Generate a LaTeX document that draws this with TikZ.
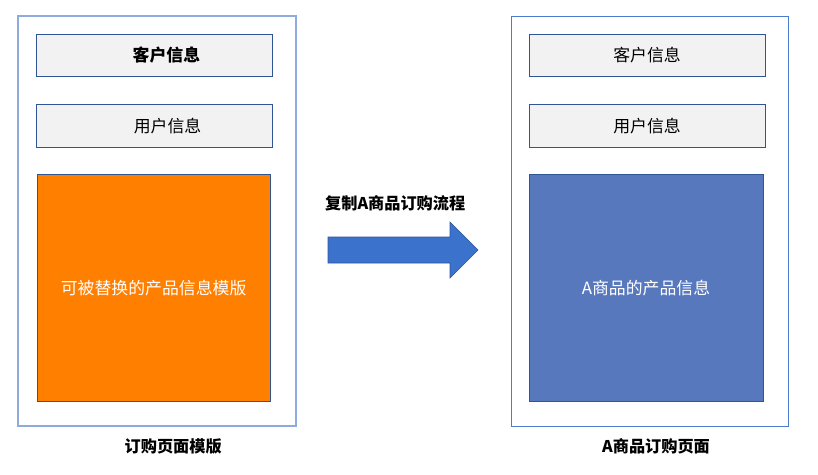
\documentclass[tikz,border=0pt]{standalone}
\usepackage{fontspec}
\usepackage{tikz}
\usetikzlibrary{positioning}
\setmainfont{Noto Sans CJK SC}
\definecolor{pageline}{RGB}{143,170,220}
\definecolor{pagelineB}{RGB}{78,124,204}
\definecolor{boxline}{RGB}{47,85,151}
\definecolor{boxgray}{RGB}{242,242,242}
\definecolor{prodorange}{RGB}{255,127,0}
\definecolor{prodblue}{RGB}{88,120,190}
\definecolor{arrowblue}{RGB}{58,114,204}

\begin{document}
\begin{tikzpicture}[
  page/.style={rectangle, draw=pageline, thick, minimum width=6.95cm, minimum height=10.25cm},
  infobox/.style={rectangle, draw=boxline, fill=boxgray, minimum width=5.9cm, minimum height=1.06cm,
                  font=\fontsize{12}{14}\selectfont},
  prodbox/.style={rectangle, draw=boxline, minimum width=5.83cm, minimum height=5.675cm,
                  text=white, font=\fontsize{12}{14}\selectfont},
  caption/.style={font=\fontsize{11.5}{13}\selectfont\bfseries},
]
\useasboundingbox (0,0) rectangle (20.45,11.85);

% template page
\node[page] (tpl) at (3.925,6.325) {};
\node[infobox, font=\fontsize{12}{14}\selectfont\bfseries] (cust1) at (3.85,10.475) {\hspace*{0.62cm}客户信息};
\node[infobox] (user1) at (3.86,8.71) {\hspace*{0.66cm}用户信息};
\node[prodbox, fill=prodorange] (prod1) at (3.84,4.66) {可被替换的产品信息模版};
\node[caption] (cap1) at (4.33,0.7) {订购页面模版};

% product A page
\node[page, draw=pagelineB, semithick, minimum width=6.925cm] (pga) at (16.24,6.325) {};
\node[infobox] (cust2) at (16.175,10.475) {客户信息};
\node[infobox] (user2) at (16.175,8.71) {用户信息};
\node[prodbox, fill=prodblue, minimum width=5.85cm] (prod2) at (16.15,4.66) {A商品的产品信息};
\node[caption] (cap2) at (16.4,0.7) {A商品订购页面};

% copy arrow
\draw[draw=boxline, fill=arrowblue] (8.2,5.925) -- (11.25,5.925) -- (11.25,6.3) -- (11.95,5.6)
  -- (11.25,4.9) -- (11.25,5.275) -- (8.2,5.275) -- cycle;
\node[caption] (copy) at (9.88,6.775) {复制A商品订购流程};
\end{tikzpicture}
\end{document}
